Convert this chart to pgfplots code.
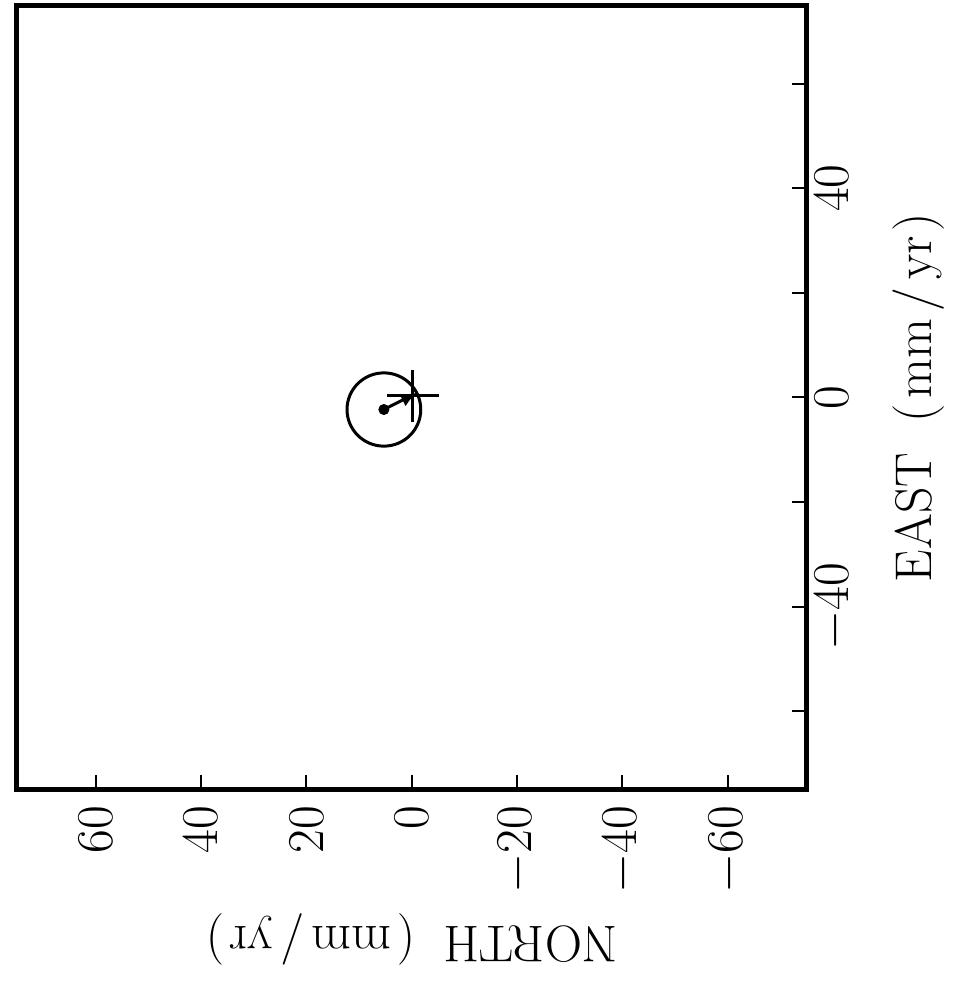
\documentclass[border=0pt]{standalone}
\usepackage{pgfplots}
\pgfplotsset{compat=1.18}
\usetikzlibrary{arrows.meta}
\newcommand{\unit}{(\hspace{0.1em}mm\hspace{0.15em}/\hspace{0.15em}yr\hspace{0.1em})}
\begin{document}
\begin{tikzpicture}[rotate=90, transform shape]
\begin{axis}[
  width=314bp, height=316bp, scale only axis,
  xmin=-75, xmax=75, ymin=-75, ymax=75,
  clip=false,
  axis line style={line width=2bp},
  xtick={-40,0,40}, minor xtick={-60,-20,20,60},
  ytick={-60,-40,-20,0,20,40,60},
  xtick pos=bottom, ytick pos=left,
  tick align=inside,
  major tick length=6bp, minor tick length=6bp,
  tick style={black, line width=0.8bp},
  tick label style={font=\fontsize{20.74}{24}\selectfont},
  yticklabel style={xshift=-3bp},
  label style={font=\fontsize{20.74}{24}\selectfont},
  xlabel={EAST\hspace{0.6em}\unit},
  ylabel={NORTH\hspace{0.55em}\unit},
  xlabel shift=9bp,
  ylabel shift=1bp,
]
\draw[black, line width=1.2bp] (axis cs:-2.3,5.3) circle [radius=7];
\addplot[black, line width=1.2bp, -{Latex[length=6.5bp,width=5.5bp]}] coordinates {(-2.3,5.3) (0.9,-1.0)};
\addplot[black, only marks, mark=*, mark size=2bp] coordinates {(-2.3,5.3)};
\addplot[black, draw=none, mark=none, error bars/.cd, x dir=both, x explicit, y dir=both, y explicit, error mark=none, error bar style={black, line width=1.2bp}] coordinates {(0.3,-0.2) +- (5,4.9)};
\path (axis cs:-114,-102.9) (axis cs:75.96,78.2);
\end{axis}
\end{tikzpicture}
\end{document}
